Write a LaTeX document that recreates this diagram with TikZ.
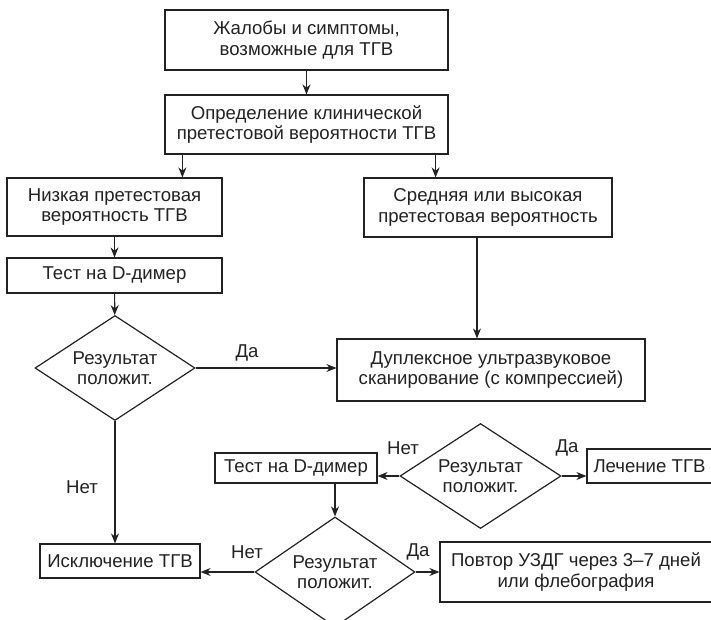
\documentclass[tikz,border=0pt]{standalone}
\usepackage{fontspec}
\setmainfont{Liberation Sans}
\usetikzlibrary{shapes.geometric,arrows.meta}
\definecolor{ink}{HTML}{222222}
\begin{document}
\begin{tikzpicture}[x=1pt,y=-1pt,
  every node/.style={font=\fontsize{18.6}{20.5}\selectfont, text=ink},
  box/.style={draw=ink, line width=1.2pt, inner sep=0pt, align=center},
  dec/.style={draw=ink, line width=1.2pt, shape=diamond, inner sep=0pt, align=center, aspect=1.5},
  arr/.style={draw=ink, line width=1.2pt, -{Stealth[length=10pt,width=8pt]}},
  lbl/.style={inner sep=0pt}]
\clip (0,0) rectangle (711,619);
\fill[white] (0,0) rectangle (711,619);
% boxes
\node[box, minimum width=283pt, minimum height=60pt] (b1) at (306.5,40) {Жалобы и симптомы,\\возможные для ТГВ};
\node[box, minimum width=283pt, minimum height=59pt] (b2) at (306.5,124.5) {Определение клинической\\претестовой вероятности ТГВ};
\node[box, minimum width=215pt, minimum height=58pt] (low) at (114.5,207) {Низкая претестовая\\вероятность ТГВ};
\node[box, minimum width=215pt, minimum height=35pt] (dd1) at (114.5,275.5) {Тест на D-димер};
\node[box, minimum width=248pt, minimum height=59pt] (mid) at (488,207.5) {Средняя или высокая\\претестовая вероятность};
\node[box, minimum width=308pt, minimum height=62pt] (dup) at (491,370) {Дуплексное ультразвуковое\\сканирование (с компрессией)};
\node[dec, minimum width=160pt, minimum height=105pt] (q1) at (115,368) {Результат\\положит.};
\node[dec, minimum width=161pt, minimum height=105pt] (q2) at (480.5,476) {Результат\\положит.};
\node[box, minimum width=162pt, minimum height=30pt] (dd2) at (296,468) {Тест на D-димер};
\node[box, minimum width=125pt, minimum height=34pt] (treat) at (649.5,466) {Лечение ТГВ};
\node[dec, minimum width=160pt, minimum height=110pt] (q3) at (335,572) {Результат\\положит.};
\node[box, minimum width=160pt, minimum height=34pt] (excl) at (120,561) {Исключение ТГВ};
\node[box, minimum width=272pt, minimum height=60pt] (rep) at (576,572) {Повтор УЗДГ через 3–7 дней\\или флебография};
% connectors
\draw[arr] (b1) -- (b2);
\draw[arr] ([xshift=18pt]b2.south west) -- ([xshift=18pt]b2.south west |- low.north);
\draw[arr] ([xshift=-13pt]b2.south east) -- ([xshift=-13pt]b2.south east |- mid.north);
\draw[arr] (low) -- (dd1);
\draw[arr] (dd1) -- (q1);
\draw[arr] ([xshift=-11pt]mid.south) -- ([xshift=-11pt]mid.south |- dup.north);
\draw[arr] (q1.east) -- (q1.east -| dup.west);
\draw[arr] (q1.south) -- (q1.south |- excl.north);
\draw[arr] (q2.west) -- (q2.west -| dd2.east);
\draw[arr] (q2.east) -- (q2.east -| treat.west);
\draw[arr] (q3.north |- dd2.south) -- (q3.north);
\draw[arr] (q3.west) -- (q3.west -| excl.east);
\draw[arr] (q3.east) -- (q3.east -| rep.west);
% labels
\node[lbl] (t1) at (247,353) {Да};
\node[lbl] (t2) at (82,487) {Нет};
\node[lbl] (t3) at (403,448) {Нет};
\node[lbl] (t4) at (567,448) {Да};
\node[lbl] (t5) at (247,552) {Нет};
\node[lbl] (t6) at (418,552) {Да};
\end{tikzpicture}
\end{document}
